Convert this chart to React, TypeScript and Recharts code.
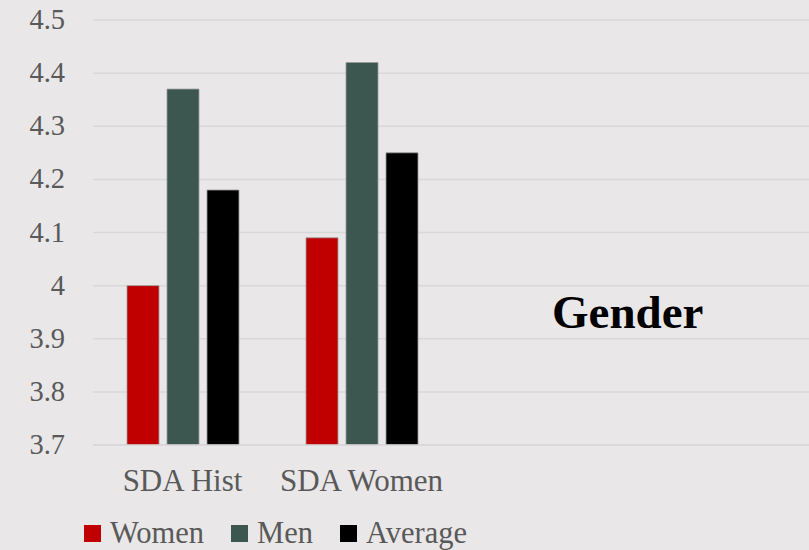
import React from 'react';
import { BarChart, Bar, XAxis, YAxis, CartesianGrid } from 'recharts';

const categories = ['SDA Hist', 'SDA Women', '', ' '];
const women = [4.0, 4.09, null, null];
const men = [4.37, 4.42, null, null];
const average = [4.18, 4.25, null, null];
const yTicks = [3.7, 3.8, 3.9, 4, 4.1, 4.2, 4.3, 4.4, 4.5];

const seriesInfo = [
  { key: 'Women', color: '#c00000' },
  { key: 'Men', color: '#3b574f' },
  { key: 'Average', color: '#000000' },
];

const data = categories.map((c, i) => ({
  name: c,
  Women: women[i],
  Men: men[i],
  Average: average[i],
}));

const FONT = '"Liberation Serif", "DejaVu Serif", serif';
const BG = '#e9e7e8';
const GRID = '#d9d7d8';
const TXT = '#595959';

const YTick = (props: any) => {
  const { x, y, payload } = props;
  return (
    <text x={x} y={y} dy={9} textAnchor="end" fill={TXT} fontSize={28.5} fontFamily={FONT}>
      {payload.value}
    </text>
  );
};

const XTick = (props: any) => {
  const { x, y, payload } = props;
  return (
    <text x={x} y={y} dy={36} textAnchor="middle" fill={TXT} fontSize={31} fontFamily={FONT}>
      {payload.value}
    </text>
  );
};

export default function App() {
  return (
    <div style={{ position: 'absolute', left: 0, top: 0, width: 809, height: 550, background: BG, overflow: 'hidden', fontFamily: FONT }}>
      <BarChart
        width={809}
        height={550}
        data={data}
        margin={{ top: 20, right: 0, bottom: 0, left: 0 }}
        barCategoryGap={33}
        barGap={8}
      >
        <CartesianGrid vertical={false} stroke={GRID} strokeWidth={1.5} />
        <XAxis
          dataKey="name"
          height={105}
          tickLine={false}
          axisLine={{ stroke: GRID, strokeWidth: 1.5 }}
          tick={<XTick />}
          tickSize={0}
          tickMargin={10}
          interval={0}
        />
        <YAxis
          width={93}
          domain={[3.7, 4.5]}
          ticks={yTicks}
          tickLine={false}
          axisLine={false}
          tickSize={0}
          tickMargin={28}
          tick={<YTick />}
          allowDataOverflow
        />
        {seriesInfo.map((s) => (
          <Bar
            key={s.key}
            dataKey={s.key}
            fill={s.color}
            stroke="#9a9a9a"
            strokeWidth={0.8}
            barSize={32}
            isAnimationActive={false}
          />
        ))}
      </BarChart>
      <div
        style={{
          position: 'absolute',
          left: 84,
          top: 516,
          display: 'flex',
          alignItems: 'center',
          fontFamily: FONT,
          fontSize: 30.5,
          color: TXT,
          lineHeight: '34px',
        }}
      >
        {seriesInfo.map((s) => (
          <div key={s.key} style={{ display: 'flex', alignItems: 'center', marginRight: 27 }}>
            <span style={{ width: 17, height: 17, background: s.color, display: 'inline-block', marginRight: 9 }} />
            <span>{s.key}</span>
          </div>
        ))}
      </div>
      <div
        style={{
          position: 'absolute',
          left: 552,
          top: 289,
          fontFamily: FONT,
          fontWeight: 'bold',
          fontSize: 47,
          color: '#000',
          lineHeight: 1,
        }}
      >
        Gender
      </div>
    </div>
  );
}
